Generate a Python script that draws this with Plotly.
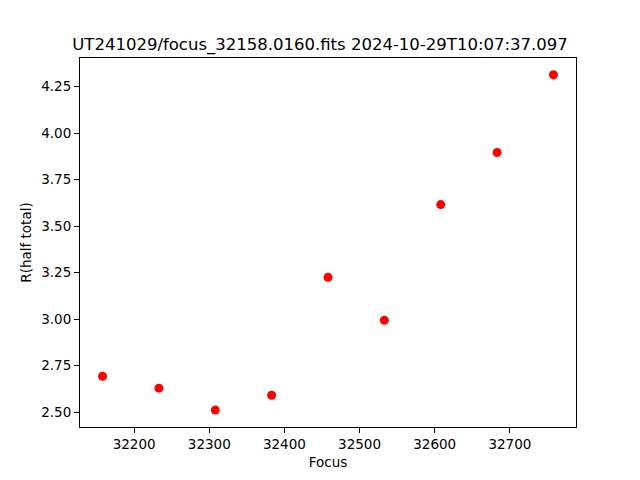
import plotly.graph_objects as go

title = "UT241029/focus_32158.0160.fits 2024-10-29T10:07:37.097"
focus = [32158, 32233, 32308, 32383, 32458, 32533, 32608, 32683, 32758]
r_half = [2.693, 2.629, 2.511, 2.591, 3.225, 2.994, 3.616, 3.896, 4.314]
x_ticks = [32200, 32300, 32400, 32500, 32600, 32700]
y_ticks = [2.50, 2.75, 3.00, 3.25, 3.50, 3.75, 4.00, 4.25]

fig = go.Figure(go.Scatter(x=focus, y=r_half, mode="markers",
                           marker=dict(color="red", size=9)))
axis_common = dict(showline=True, linecolor="black", linewidth=1, mirror=True,
                   ticks="outside", ticklen=5, tickcolor="black", showgrid=False,
                   zeroline=False, tickfont=dict(size=13.5, color="black"))
fig.update_xaxes(range=[32128, 32788], tickvals=x_ticks,
                 ticktext=[str(v) for v in x_ticks],
                 title=dict(text="Focus", font=dict(size=13.5, color="black"), standoff=6),
                 **axis_common)
fig.update_yaxes(range=[2.42, 4.404], tickvals=y_ticks,
                 ticktext=[f"{v:.2f}" for v in y_ticks],
                 title=dict(text="R(half total)", font=dict(size=13.5, color="black"), standoff=6),
                 **axis_common)
fig.update_layout(
    width=640, height=480,
    margin=dict(l=80, r=64, t=58, b=53),
    paper_bgcolor="white", plot_bgcolor="white",
    font=dict(family="DejaVu Sans", color="black"),
    title=dict(text=title, x=0.5, xanchor="center", y=1 - 44/480, yanchor="middle",
               font=dict(size=16.5, color="black")),
    showlegend=False,
)
fig.write_html("out.html", config={"displayModeBar": False})

with open("out.html", "r", encoding="utf-8") as f:
    html = f.read()
html = html.replace("<head>", "<head><style>html,body{margin:0;padding:0;overflow:hidden}</style>", 1)
with open("out.html", "w", encoding="utf-8") as f:
    f.write(html)
